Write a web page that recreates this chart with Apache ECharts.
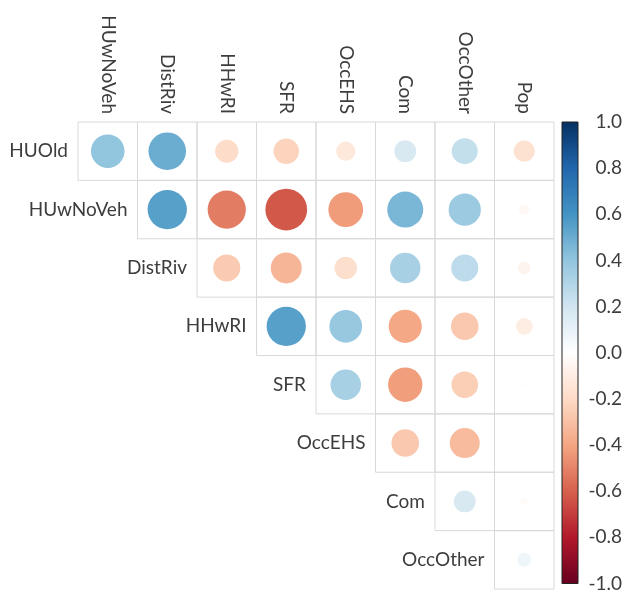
<!DOCTYPE html>
<html>
<head>
<meta charset="utf-8">
<style>
  html, body { margin: 0; padding: 0; background: #ffffff; }
  #chart { width: 634px; height: 593px; }
</style>
<script src="https://cdn.jsdelivr.net/npm/echarts@6/dist/echarts.min.js"></script>
</head>
<body>
<div id="chart"></div>
<script>
// Variables of the correlation matrix (upper triangle, diagonal omitted)
const rowNames = ['HUOld', 'HUwNoVeh', 'DistRiv', 'HHwRI', 'SFR', 'OccEHS', 'Com', 'OccOther'];
const colNames = ['HUwNoVeh', 'DistRiv', 'HHwRI', 'SFR', 'OccEHS', 'Com', 'OccOther', 'Pop'];

// Correlation coefficients, one array per row, starting at the first column right of the diagonal
const corrHUOld    = [0.40, 0.50, -0.19, -0.23, -0.13, 0.17, 0.24, -0.16];
const corrHUwNoVeh = [0.55, -0.52, -0.62, -0.43, 0.46, 0.37, -0.04];
const corrDistRiv  = [-0.26, -0.34, -0.18, 0.33, 0.26, -0.06];
const corrHHwRI    = [0.55, 0.38, -0.39, -0.27, -0.10];
const corrSFR      = [0.33, -0.42, -0.25, -0.01];
const corrOccEHS   = [-0.27, -0.32, 0.00];
const corrCom      = [0.17, -0.02];
const corrOccOther = [0.07];

// Colour legend scale
const legendMin = -1;
const legendMax = 1;
const legendStep = 0.2;

// Diverging red-blue palette, from -1 to 1
const palette = ['#67001F', '#B2182B', '#D6604D', '#F4A582', '#FDDBC7', '#FFFFFF',
                 '#D1E5F0', '#92C5DE', '#4393C3', '#2166AC', '#053061'];

const corrRows = [corrHUOld, corrHUwNoVeh, corrDistRiv, corrHHwRI, corrSFR, corrOccEHS, corrCom, corrOccOther];

// [column index, row index, r]
const cells = [];
corrRows.forEach((vals, i) => {
  vals.forEach((v, k) => cells.push([i + k, i, v]));
});

const textColor = '#3d3d3d';
const fontFamily = 'Lato, "Open Sans", sans-serif';

const chart = echarts.init(document.getElementById('chart'), null, { renderer: 'canvas' });

chart.setOption({
  backgroundColor: '#ffffff',
  animation: false,
  grid: [
    { left: 78, top: 122, width: 476, height: 467 },
    { left: 562, top: 122, width: 16, height: 467 }
  ],
  xAxis: [
    {
      gridIndex: 0, type: 'category', data: colNames, position: 'top',
      axisLine: { show: false }, axisTick: { show: false }, splitLine: { show: false },
      axisLabel: { rotate: 90, margin: 8, fontSize: 19, color: textColor, fontFamily: fontFamily, interval: 0 }
    },
    { gridIndex: 1, type: 'value', min: 0, max: 1, show: false }
  ],
  yAxis: [
    {
      gridIndex: 0, type: 'category', data: rowNames, inverse: true, show: false
    },
    {
      gridIndex: 1, type: 'value', min: legendMin, max: legendMax, interval: legendStep,
      position: 'right',
      axisLine: { show: false },
      axisTick: { show: true, length: 3, lineStyle: { color: '#222', width: 1 } },
      splitLine: { show: false },
      axisLabel: {
        margin: 44, align: 'right', fontSize: 19, color: textColor, fontFamily: fontFamily,
        formatter: v => v.toFixed(1)
      }
    }
  ],
  visualMap: {
    show: false, type: 'continuous', seriesIndex: 0, dimension: 2,
    min: legendMin, max: legendMax, inRange: { color: palette }
  },
  series: [
    {
      // grid cells and circles
      type: 'custom', xAxisIndex: 0, yAxisIndex: 0,
      data: cells,
      renderItem: function (params, api) {
        const c = api.coord([api.value(0), api.value(1)]);
        const s = api.size([1, 1]);
        const v = api.value(2);
        const cellSize = (s[0] + s[1]) / 2;
        const r = 0.45 * Math.sqrt(Math.abs(v)) * cellSize;
        return {
          type: 'group',
          children: [
            {
              type: 'rect',
              shape: { x: c[0] - s[0] / 2, y: c[1] - s[1] / 2, width: s[0], height: s[1] },
              style: { fill: 'none', stroke: '#d9d9d9', lineWidth: 1 }
            },
            {
              type: 'circle',
              shape: { cx: c[0], cy: c[1], r: r },
              style: { fill: api.visual('color') }
            }
          ]
        };
      }
    },
    {
      // row labels, left of each row's first cell
      type: 'custom', xAxisIndex: 0, yAxisIndex: 0,
      data: rowNames.map((n, i) => [i, i]),
      renderItem: function (params, api) {
        const i = api.value(1);
        const c = api.coord([api.value(0), i]);
        const s = api.size([1, 1]);
        return {
          type: 'text',
          style: {
            x: c[0] - s[0] / 2 - 10, y: c[1],
            text: rowNames[i],
            align: 'right', verticalAlign: 'middle',
            fill: textColor, fontSize: 19, fontFamily: fontFamily
          }
        };
      }
    },
    {
      // colour legend bar
      type: 'custom', xAxisIndex: 1, yAxisIndex: 1,
      data: [[0, legendMax]],
      renderItem: function (params, api) {
        const p1 = api.coord([0, legendMax]);
        const p2 = api.coord([1, legendMin]);
        const stops = palette.slice().reverse().map((col, k) => ({ offset: k / (palette.length - 1), color: col }));
        return {
          type: 'rect',
          shape: { x: p1[0], y: p1[1], width: p2[0] - p1[0], height: p2[1] - p1[1] },
          style: {
            fill: new echarts.graphic.LinearGradient(0, 0, 0, 1, stops),
            stroke: '#222', lineWidth: 1
          }
        };
      }
    }
  ]
});
</script>
</body>
</html>
